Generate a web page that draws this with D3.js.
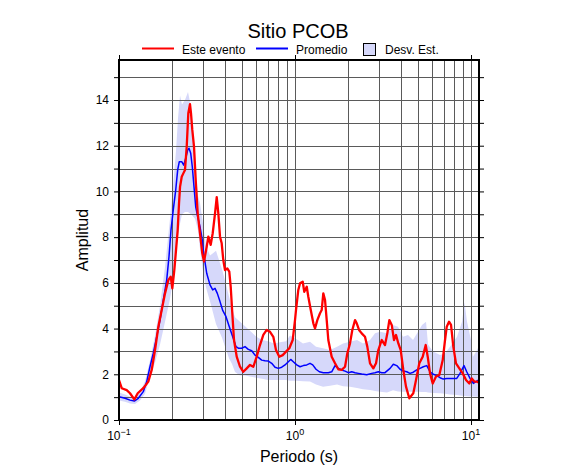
<!DOCTYPE html>
<html><head><meta charset="utf-8">
<script src="https://cdn.jsdelivr.net/npm/d3@7"></script>
<style>
body{margin:0;background:#fff;}
svg{display:block;font-family:"Liberation Sans",Arial,Helvetica,sans-serif;}
</style></head><body>
<svg id="chart" width="586" height="475"></svg>
<script>
// ---------- DATA ----------
const periodRed = [0.100,0.1036,0.1106,0.1155,0.1222,0.1277,0.1374,0.1467,0.1534,0.1602,
0.1673,0.1748,0.1826,0.1906,0.1967,0.2009,0.2062,0.2109,0.2155,0.2193,
0.2222,0.2272,0.2320,0.2371,0.2425,0.2476,0.2531,0.2565,0.2609,0.2668,
0.2728,0.2800,0.2885,0.2973,0.3041,0.3150,0.3217,0.3319,0.3407,0.3512,
0.3591,0.3667,0.3749,0.3832,0.3913,0.4002,0.4124,0.4233,0.4312,0.4403,
0.4502,0.4664,0.4870,0.5085,0.5316,0.5551,0.5797,0.6059,0.6325,0.6605,
0.6907,0.7211,0.7529,0.7798,0.8143,0.8514,0.8890,0.9282,0.9703,1.000,
1.013,1.044,1.068,1.106,1.129,1.166,1.190,1.229,1.271,1.299,
1.339,1.387,1.418,1.448,1.481,1.514,1.546,1.616,1.688,1.762,
1.842,1.924,1.983,2.053,2.116,2.193,2.242,2.311,2.393,2.498,
2.575,2.668,2.786,2.886,2.974,3.109,3.246,3.346,3.435,3.544,
3.652,3.750,3.864,3.986,4.124,4.272,4.460,4.700,4.870,5.085,
5.316,5.528,5.675,5.849,6.059,6.325,6.605,6.907,7.118,7.277,
7.499,7.698,7.932,8.217,8.579,8.971,9.367,9.779,10.09,10.44,
10.78,11.10];
const ampRed = [1.75,1.39,1.31,1.17,0.90,1.17,1.39,1.68,2.19,3.06,
4.08,4.81,5.54,6.12,6.27,5.76,6.56,7.44,8.31,9.48,
10.2,10.64,10.79,10.94,11.96,13.42,13.82,13.42,12.69,11.96,
10.5,9.04,8.17,7.29,6.93,7.58,8.02,7.66,8.17,9.04,
9.75,9.04,8.02,7.73,7.0,6.56,6.63,6.49,5.83,4.67,
3.5,2.77,2.33,2.11,2.26,2.41,2.33,2.77,3.28,3.72,
3.94,3.86,3.64,3.06,2.77,2.84,2.99,3.14,3.5,4.37,
4.81,5.69,5.98,6.05,5.61,5.83,5.39,4.81,4.23,4.01,
4.37,4.67,4.81,5.54,5.25,4.37,3.5,2.77,2.48,2.22,
2.19,2.33,2.92,3.35,3.94,4.37,4.23,3.94,3.79,3.64,
3.21,2.48,2.26,2.48,3.06,3.5,3.28,3.79,4.37,4.16,
3.5,3.72,3.35,3.06,2.19,1.46,0.95,1.17,1.75,2.48,
2.77,3.28,2.77,2.04,1.6,1.9,1.97,2.62,3.5,4.08,
4.3,4.16,3.21,2.48,2.26,2.04,1.75,1.6,1.82,1.68,
1.68,1.63];

const periodMean = [0.100,0.1082,0.1155,0.1222,0.1287,0.1374,0.1437,0.1500,0.1566,0.1637,
0.1710,0.1785,0.1866,0.1923,0.1974,0.2034,0.2100,0.2155,0.2201,0.2272,
0.2332,0.2393,0.2457,0.2499,0.2555,0.2609,0.2668,0.2728,0.2800,0.2885,
0.2973,0.3013,0.3150,0.3289,0.3407,0.3512,0.3619,0.3749,0.3877,0.4055,
0.4233,0.4426,0.4621,0.4763,0.4980,0.5199,0.5429,0.5675,0.5926,0.6187,
0.6468,0.6754,0.7053,0.7373,0.7700,0.8041,0.8407,0.8775,0.9161,0.9454,
0.9779,1.023,1.068,1.115,1.166,1.217,1.261,1.316,1.375,1.448,
1.546,1.616,1.688,1.762,1.842,1.924,2.008,2.100,2.193,2.290,
2.393,2.555,2.728,2.848,2.974,3.109,3.246,3.467,3.619,3.784,
3.952,4.124,4.313,4.502,4.700,4.914,5.130,5.358,5.603,5.849,
6.107,6.385,6.667,6.960,7.277,7.766,8.296,8.661,9.124,9.454,
9.870,10.31,10.68,11.06];
const ampMean = [1.02,0.95,0.87,0.83,0.95,1.24,1.68,2.33,2.92,3.64,
4.37,5.25,6.12,7.14,8.31,9.19,10.06,10.94,11.3,11.3,
11.15,11.45,11.81,11.89,11.67,11.08,10.2,9.33,8.89,8.46,
7.87,7.4,6.42,5.91,5.69,5.76,5.54,5.18,4.81,4.52,
4.08,3.64,3.21,3.14,3.14,3.21,3.09,3.03,2.84,2.74,
2.62,2.59,2.58,2.48,2.31,2.26,2.31,2.41,2.55,2.65,
2.55,2.41,2.33,2.38,2.41,2.48,2.41,2.22,2.11,2.07,
2.07,2.11,2.38,2.26,2.19,2.14,2.07,2.11,2.07,2.04,
2.01,1.98,2.04,2.07,2.11,2.07,2.07,2.26,2.44,2.38,
2.22,2.14,2.11,2.04,2.09,2.19,2.26,2.33,2.38,2.11,
2.0,1.94,1.85,1.79,1.82,1.82,1.82,2.04,2.38,2.11,
1.82,1.6,1.68,1.75];

const periodBand = [0.1000,0.1082,0.1155,0.1233,0.1316,0.1405,0.1500,0.1602,0.1710,0.1826,
0.1949,0.2027,0.2109,0.2164,0.2222,0.2280,0.2371,0.2466,0.2565,0.2634,
0.2703,0.2811,0.2885,0.3001,0.3121,0.3289,0.3420,0.3557,0.3700,0.3848,
0.4002,0.4217,0.4386,0.4562,0.4870,0.5199,0.5551,0.6004,0.6494,0.7025,
0.7598,0.8217,0.8890,0.9367,1.013,1.110,1.217,1.316,1.443,1.581,
1.733,1.874,2.053,2.251,2.434,2.668,2.848,3.041,3.332,3.605,
3.848,4.109,4.385,4.682,5.000,5.268,5.551,5.698,6.083,6.667,
7.118,7.598,8.327,8.890,9.186,9.491,10.00,10.26,10.82,11.10];
const bandUpper = [1.2,1.12,1.02,1.0,1.2,1.7,2.6,3.7,5.0,6.7,
8.8,10.2,11.8,13.2,14.2,13.8,14.0,14.35,13.7,12.4,
11.1,9.8,9.5,8.6,7.6,7.2,7.3,7.4,7.0,6.6,
6.1,5.4,4.9,4.5,4.3,4.1,3.9,3.65,3.5,3.45,
3.35,3.4,3.45,3.7,3.55,3.35,3.42,3.2,3.14,3.06,
3.21,3.35,3.42,3.5,3.35,3.5,3.79,3.86,3.79,4.16,
4.08,3.64,3.72,3.5,3.86,4.16,4.3,3.3,3.0,2.84,
2.92,3.21,3.64,4.3,5.15,4.3,3.5,2.77,3.06,3.25];
const bandLower = [0.85,0.8,0.72,0.7,0.85,1.15,1.9,2.5,3.3,4.3,
5.3,6.1,7.3,8.0,8.6,9.0,9.1,9.1,9.0,8.9,
8.8,8.3,7.5,6.5,5.8,5.2,4.7,4.2,3.9,3.6,
3.2,2.7,2.45,2.1,1.95,1.95,1.9,1.85,1.8,1.75,
1.75,1.75,1.75,1.72,1.72,1.7,1.68,1.55,1.46,1.5,
1.55,1.48,1.46,1.4,1.35,1.31,1.27,1.24,1.2,1.3,
1.25,1.24,1.24,1.24,1.24,1.22,1.22,1.2,1.18,1.17,
1.15,1.12,1.09,1.06,1.05,1.04,1.03,1.03,1.02,1.02];

const yTickValues = [0,1,2,3,4,5,6,7,8,9,10,11,12,13,14,15];
const xTickExponents = [-1,0,1];
const legendLabels = ["Este evento","Promedio","Desv. Est."];
const titleText = "Sitio PCOB";

// ---------- STYLE ----------
const cRed = "#ff0000", cBlue = "#0000ff", cBand = "#d6d8fa", cGrid = "#5a5a5a";
const L = 119, R = 479, T = 60, B = 420;

const svg = d3.select("#chart");
const x = d3.scaleLog().domain([0.1, 11.1]).range([L, R]);
const y = d3.scaleLinear().domain([0, 15.75]).range([B, T]);

svg.append("defs").append("clipPath").attr("id","clip")
  .append("rect").attr("x",L).attr("y",T).attr("width",R-L).attr("height",B-T);
const plot = svg.append("g").attr("clip-path","url(#clip)");

// band
const bandData = periodBand.map((p,i)=>({p, lo:bandLower[i], hi:bandUpper[i]}));
plot.append("path").datum(bandData).attr("fill",cBand)
  .attr("d", d3.area().x(d=>x(d.p)).y0(d=>y(d.lo)).y1(d=>y(d.hi)));

// grid
const gx = x.ticks().filter(v => v > 0.1001);
plot.append("g").selectAll("line").data(gx).join("line")
  .attr("x1",d=>Math.round(x(d))+0.5).attr("x2",d=>Math.round(x(d))+0.5)
  .attr("y1",T).attr("y2",B).attr("stroke",cGrid).attr("stroke-width",1);
plot.append("g").selectAll("line").data(yTickValues.filter(v=>v>0)).join("line")
  .attr("y1",d=>Math.round(y(d))+0.5).attr("y2",d=>Math.round(y(d))+0.5)
  .attr("x1",L).attr("x2",R).attr("stroke",cGrid).attr("stroke-width",1);

// curves
const line = d3.line().x(d=>x(d[0])).y(d=>y(d[1]));
plot.append("path").datum(d3.zip(periodMean, ampMean))
  .attr("fill","none").attr("stroke",cBlue).attr("stroke-width",1.5)
  .attr("stroke-linejoin","round").attr("d",line);
plot.append("path").datum(d3.zip(periodRed, ampRed))
  .attr("fill","none").attr("stroke",cRed).attr("stroke-width",2.3)
  .attr("stroke-linejoin","round").attr("d",line);

// axes
const axL = svg.append("g").attr("transform",`translate(${L},0)`)
  .call(d3.axisLeft(y).tickValues(yTickValues).tickSize(5).tickPadding(5)
    .tickFormat(d => d % 2 === 0 ? d : ""));
const axR = svg.append("g").attr("transform",`translate(${R},0)`)
  .call(d3.axisRight(y).tickValues(yTickValues).tickSize(5).tickFormat(""));
const xt = xTickExponents.map(e => Math.pow(10, e));
const axB = svg.append("g").attr("transform",`translate(0,${B})`)
  .call(d3.axisBottom(x).tickValues(xt).tickSize(5).tickFormat(""));
const axT = svg.append("g").attr("transform",`translate(0,${T})`)
  .call(d3.axisTop(x).tickValues(xt).tickSize(5).tickFormat(""));
[axL,axR,axB,axT].forEach(g=>{
  g.select(".domain").remove();
  g.selectAll(".tick line").attr("stroke","#000").attr("stroke-width",1);
  g.selectAll("text").attr("font-size",12).attr("fill","#000")
    .attr("font-family",'"Liberation Sans",Arial,sans-serif');
});

// x tick labels with superscripts
const xl = svg.append("g");
xTickExponents.forEach(e=>{
  const t = xl.append("text").attr("x", x(Math.pow(10,e))).attr("y", 440)
    .attr("text-anchor","middle").attr("font-size",12);
  t.append("tspan").text("10");
  t.append("tspan").attr("font-size",9).attr("dy",-5)
    .text(e < 0 ? "\u2212" + Math.abs(e) : String(e));
});

// frame
svg.append("rect").attr("x",L).attr("y",T).attr("width",R-L).attr("height",B-T)
  .attr("fill","none").attr("stroke","#000").attr("stroke-width",2);

// titles
svg.append("text").attr("x",298).attr("y",38).attr("text-anchor","middle")
  .attr("font-size",20).text(titleText);
svg.append("text").attr("x",299).attr("y",462).attr("text-anchor","middle")
  .attr("font-size",16).text("Periodo (s)");
svg.append("text").attr("transform","translate(88,240) rotate(-90)")
  .attr("text-anchor","middle").attr("font-size",16).text("Amplitud");

// legend
const lg = svg.append("g").attr("font-size",12);
lg.append("line").attr("x1",142).attr("x2",174).attr("y1",48.5).attr("y2",48.5)
  .attr("stroke",cRed).attr("stroke-width",2);
lg.append("text").attr("x",182).attr("y",53.5).text(legendLabels[0]);
lg.append("line").attr("x1",256).attr("x2",288).attr("y1",48.5).attr("y2",48.5)
  .attr("stroke",cBlue).attr("stroke-width",2);
lg.append("text").attr("x",296).attr("y",53.5).text(legendLabels[1]);
lg.append("rect").attr("x",363.5).attr("y",43.5).attr("width",12).attr("height",12)
  .attr("fill",cBand).attr("stroke","#000").attr("stroke-width",1);
lg.append("text").attr("x",385).attr("y",53.5).text(legendLabels[2]);
</script>
</body></html>
